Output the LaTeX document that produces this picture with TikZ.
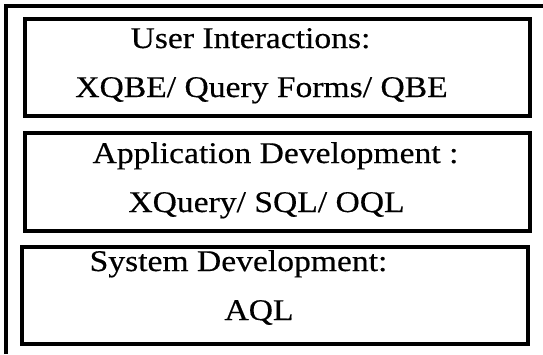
\documentclass[tikz,border=0pt]{standalone}
\usepackage{fontspec}
\newfontfamily\layerfont[FakeStretch=1.12,FakeBold=0.4]{Liberation Serif}
\begin{document}
\begin{tikzpicture}[x=1bp,y=-1bp,
  layer/.style={draw=black, line width=4bp, fill=none, inner sep=0pt},
  label/.style={anchor=base, inner sep=0pt, font=\layerfont\fontsize{30bp}{30bp}\selectfont}]
  \useasboundingbox (0,0) rectangle (543,354);
  % outer frame: only the top and left edges show
  \coordinate (fl) at (6,354);
  \coordinate (fc) at (6,6);
  \coordinate (fr) at (543,6);
  \draw[line width=4bp] (fl) -- (fc) -- (fr);
  % three stacked layers
  \node[layer, minimum width=504.5bp, minimum height=97bp] (user) at (277.25,67.5) {};
  \node[layer, minimum width=504.5bp, minimum height=97.5bp] (app) at (277.25,182) {};
  \node[layer, minimum width=505.5bp, minimum height=97.5bp] (sys) at (274.75,295.25) {};
  % layer texts
  \node[label] (u1) at (250.5,48) {User Interactions:};
  \node[label] (u2) at (261.5,97) {XQBE/ Query Forms/ QBE};
  \node[label] (a1) at (275.5,163) {Application Development :};
  \node[label] (a2) at (266.5,212) {XQuery/ SQL/ OQL};
  \node[label] (s1) at (238.5,271) {System Development:};
  \node[label] (s2) at (259,320) {AQL};
\end{tikzpicture}
\end{document}
